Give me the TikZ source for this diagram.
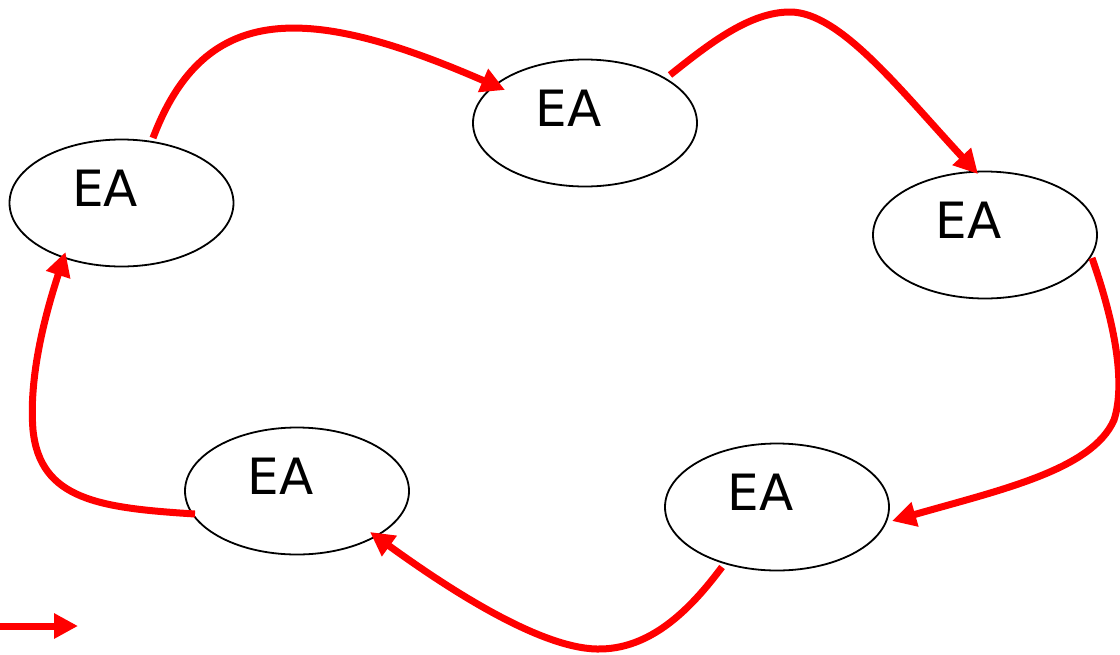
\documentclass[tikz,border=0pt]{standalone}
\usepackage{fontspec}
\setmainfont{DejaVu Sans}
\usetikzlibrary{shapes.geometric,arrows.meta,calc}
\begin{document}
\begin{tikzpicture}[x=1pt,y=-1pt,
  eabox/.style={ellipse,draw=black,line width=1.8pt,minimum width=224pt,minimum height=127pt,inner sep=0pt,outer sep=0pt},
  eatext/.style={font=\fontsize{50}{50}\selectfont,inner sep=0pt},
  flow/.style={draw=red,line width=7pt,-{Triangle[length=24pt,width=24pt]}}]
\useasboundingbox (0,0) rectangle (1120,654);

% five ellipses with their labels
\node[eabox] (e1) at (121.5,203) {};
\node[eabox] (e2) at (585,123) {};
\node[eabox] (e3) at (985,235) {};
\node[eabox] (e4) at (777,507) {};
\node[eabox] (e5) at (297,491) {};
\foreach \n in {1,...,5}
  \node[eatext] (t\n) at ($(e\n.center)+(-16.5,-14.5)$) {EA};

% cycle of red arrows
\draw[flow] ($(e1.center)+(31.5,-65)$) .. controls (205,0) and (310,5) .. ($(e2.center)+(-80,-33)$);
\draw[flow] ($(e2.center)+(85,-48)$) .. controls (710,43) and (750,12) .. (790,12)
  .. controls (840,12) and (900,90) .. ($(e3.center)+(-7,-61)$);
\draw[flow] ($(e3.center)+(107,23)$) .. controls (1112,315) and (1127,380) .. (1114,420)
  .. controls (1092,470) and (1000,490) .. ($(e4.center)+(115,14)$);
\draw[flow] ($(e4.center)+(-55,60)$) .. controls (690,610) and (650,650) .. (597,649)
  .. controls (540,648) and (450,590) .. ($(e5.center)+(73,41)$);
\draw[flow] ($(e5.center)+(-102,23)$) .. controls (100,508) and (40,500) .. (33,430)
  .. controls (28,370) and (50,300) .. ($(e1.center)+(-56,49)$);

% small arrow at the lower left
\coordinate (l0) at (0,626);
\coordinate (l1) at (78,626);
\draw[flow] (l0) -- (l1);
\end{tikzpicture}
\end{document}
